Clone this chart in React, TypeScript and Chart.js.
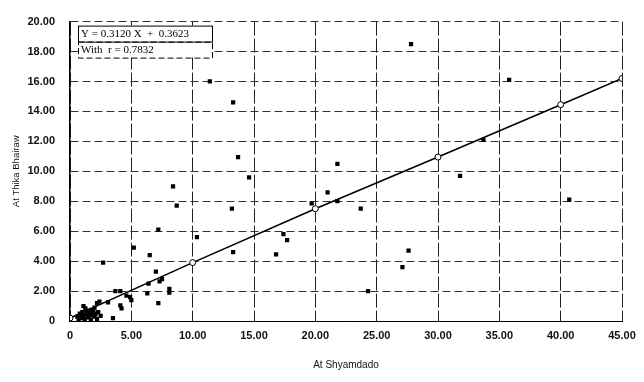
import React, { useEffect, useRef } from "react";
import { Chart, registerables } from "chart.js";

Chart.register(...registerables);

const observedX = [
  11.4, 13.3, 13.7, 14.6, 13.2, 10.35, 13.3, 16.8, 17.4, 17.7, 19.7, 27.8, 35.8, 33.7, 21.8, 21.0, 21.8, 23.7, 31.8, 40.7, 27.6, 27.1, 24.3,
  8.4, 8.7, 7.2, 5.2, 6.5, 2.7, 7.0, 7.5, 7.3, 6.4, 8.1, 8.1, 6.3, 7.2, 3.7, 4.1, 4.6, 4.9, 5.0, 4.1, 4.2, 3.5, 3.1, 2.4, 2.2, 1.1,
  0.6, 0.8, 0.9, 1.0, 1.1, 1.2, 1.3, 1.4, 1.5, 1.6, 1.7, 1.8, 1.9, 2.0, 2.1, 2.2, 2.3, 1.25, 0.7, 1.55, 1.75, 2.5, 2.0, 0.95,
];
const observedY = [
  16.0, 14.6, 10.95, 9.6, 7.5, 5.6, 4.6, 4.45, 5.8, 5.4, 7.85, 18.5, 16.1, 12.1, 10.5, 8.6, 8.0, 7.5, 9.7, 8.1, 4.7, 3.6, 2.0,
  9.0, 7.7, 6.1, 4.9, 4.4, 3.9, 3.3, 2.8, 2.65, 2.5, 2.15, 1.9, 1.85, 1.2, 2.0, 2.0, 1.7, 1.6, 1.4, 1.05, 0.85, 0.2, 1.25, 1.3, 1.2, 1.0,
  0.3, 0.5, 0.2, 0.6, 0.35, 0.15, 0.45, 0.7, 0.25, 0.55, 0.1, 0.4, 0.65, 0.3, 0.5, 0.15, 0.6, 0.85, 0.05, 0.4, 0.75, 0.35, 0.9, 0.45,
];

const fitX = [0, 10, 20, 30, 40, 45];
const fitY = [0.2, 3.9, 7.5, 10.95, 14.45, 16.2];

const equationLines = ["Y = 0.3120 X  +  0.3623", "With  r = 0.7832"];
const xTitle = "At Shyamdado";
const yTitle = "At Thika Bhairaw";

const tickFmt = (v: number) => (v === 0 ? "0" : Number(v).toFixed(2));

const equationPlugin = {
  id: "equationBox",
  afterDraw(chart: any) {
    const { ctx, chartArea } = chart;
    const x0 = chartArea.left + 8;
    const y0 = chartArea.top + 4;
    const w = 134;
    const h1 = 16;
    ctx.save();
    ctx.fillStyle = "#fff";
    ctx.fillRect(x0, y0, w, h1 * 2);
    ctx.strokeStyle = "#000";
    ctx.lineWidth = 1;
    ctx.strokeRect(x0 + 0.5, y0 + 0.5, w, h1);
    ctx.setLineDash([6, 3]);
    ctx.strokeRect(x0 + 0.5, y0 + h1 + 0.5, w, h1);
    ctx.setLineDash([]);
    ctx.fillStyle = "#000";
    ctx.font = "11px 'Liberation Serif'";
    ctx.textBaseline = "middle";
    ctx.fillText(equationLines[0], x0 + 3, y0 + h1 / 2 + 1);
    ctx.fillText(equationLines[1], x0 + 3, y0 + h1 + h1 / 2 + 1);
    ctx.restore();
  },
};

export default function App() {
  const ref = useRef<HTMLCanvasElement>(null);
  useEffect(() => {
    document.body.style.margin = "0";
    const scatter = observedX.map((x, i) => ({ x, y: observedY[i] }));
    const fit = fitX.map((x, i) => ({ x, y: fitY[i] }));
    const chart = new Chart(ref.current!, {
      type: "scatter",
      data: {
        datasets: [
          {
            type: "line",
            data: fit,
            borderColor: "#000",
            borderWidth: 1.6,
            pointRadius: 3,
            pointBackgroundColor: "#fff",
            pointBorderColor: "#000",
            pointBorderWidth: 1,
            tension: 0,
            order: 1,
          } as any,
          {
            data: scatter,
            pointStyle: "rect",
            pointRadius: 3,
            backgroundColor: "#000",
            borderColor: "#000",
            borderWidth: 0,
            order: 2,
          },
        ],
      },
      options: {
        animation: false,
        responsive: false,
        layout: { padding: { top: 16, right: 22, left: 0, bottom: 0 } },
        plugins: { legend: { display: false }, tooltip: { enabled: false } },
        scales: {
          x: {
            type: "linear",
            min: 0,
            max: 45,
            afterFit: (s: any) => {
              s.height = 61;
            },
            ticks: {
              stepSize: 5,
              callback: (v: any) => tickFmt(v),
              color: "#111",
              font: { family: "'Liberation Sans'", size: 11, weight: "bold" },
              padding: 8,
              maxRotation: 0,
            },
            grid: {
              color: "#222",
              lineWidth: 1,
              drawTicks: false,
            },
            border: { display: true, color: "#000", width: 1, dash: [14, 3] },
            title: {
              display: true,
              text: xTitle,
              color: "#111",
              font: { family: "'Liberation Sans'", size: 10 },
              padding: { top: 4, bottom: 11 },
            },
          },
          y: {
            type: "linear",
            min: 0,
            max: 20,
            afterFit: (s: any) => {
              s.width = 70;
            },
            ticks: {
              stepSize: 2,
              callback: (v: any) => tickFmt(v),
              color: "#111",
              font: { family: "'Liberation Sans'", size: 11, weight: "bold" },
              padding: 15,
            },
            grid: {
              color: "#333",
              lineWidth: 1,
              drawTicks: false,
            },
            border: { display: true, color: "#000", width: 1.5, dash: [8, 4] },
            title: {
              display: true,
              text: yTitle,
              color: "#111",
              font: { family: "'Liberation Sans'", size: 9.5 },
              padding: { bottom: 0, top: 11 },
            },
          },
        },
      },
      plugins: [equationPlugin],
    } as any);
    return () => chart.destroy();
  }, []);
  return (
    <div style={{ width: 644, height: 382 }}>
      <canvas ref={ref} width={644} height={382} style={{ background: "#fff" }} />
    </div>
  );
}
